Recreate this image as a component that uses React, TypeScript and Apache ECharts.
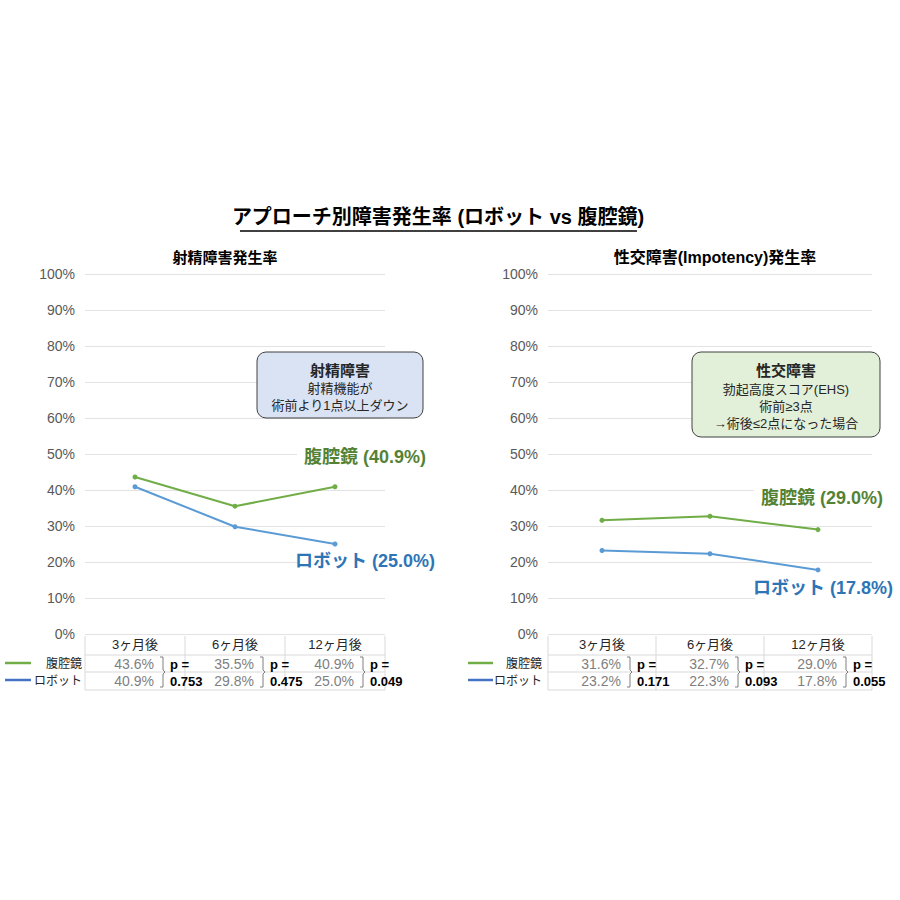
import React, { useEffect, useRef } from "react";
import * as echarts from "echarts";

const categories = ["3ヶ月後", "6ヶ月後", "12ヶ月後"];
const seriesNames = ["腹腔鏡", "ロボット"];
const ejacLap = [43.6, 35.5, 40.9];
const ejacRobot = [40.9, 29.8, 25.0];
const ejacP = ["0.753", "0.475", "0.049"];
const impLap = [31.6, 32.7, 29.0];
const impRobot = [23.2, 22.3, 17.8];
const impP = ["0.171", "0.093", "0.055"];
const yTicks = [0, 10, 20, 30, 40, 50, 60, 70, 80, 90, 100];

const mainTitle = "アプローチ別障害発生率 (ロボット vs 腹腔鏡)";
const leftTitle = "射精障害発生率";
const rightTitle = "性交障害(Impotency)発生率";
const leftBox = ["射精障害", "射精機能が", "術前より1点以上ダウン"];
const rightBox = ["性交障害", "勃起高度スコア(EHS)", "術前≥3点", "→術後≤2点になった場合"];

const GREEN = "#70ad47";
const BLUE = "#5b9bd5";
const GREEN_TXT = "#548235";
const BLUE_TXT = "#2e75b6";
const FONT = "'Liberation Sans', 'Noto Sans CJK JP', sans-serif";

const G = [
  { left: 85, width: 300, top: 274, height: 360 },
  { left: 548, width: 324, top: 274, height: 360 },
];

export default function App() {
  const ref = useRef<HTMLDivElement>(null);
  useEffect(() => {
    if (!ref.current) return;
    const chart = echarts.init(ref.current, null, { renderer: "svg" });
    const cx = (g: number, i: number) => G[g].left + ((i + 0.5) * G[g].width) / 3;

    const graphics: any[] = [];
    graphics.push({
      type: "text",
      x: 438,
      y: 217,
      style: { text: mainTitle, fill: "#000", font: `bold 20px ${FONT}`, textAlign: "center", textVerticalAlign: "middle" },
    });
    graphics.push({ type: "line", shape: { x1: 240, y1: 231, x2: 637, y2: 231 }, style: { stroke: "#000", lineWidth: 1.5 } });
    graphics.push({
      type: "text", x: 225, y: 257,
      style: { text: leftTitle, fill: "#000", font: `bold 15px ${FONT}`, textAlign: "center", textVerticalAlign: "middle" },
    });
    graphics.push({
      type: "text", x: 715, y: 257,
      style: { text: rightTitle, fill: "#000", font: `bold 16px ${FONT}`, textAlign: "center", textVerticalAlign: "middle" },
    });

    const box = (x: number, y: number, w: number, h: number, fill: string, lines: string[], ys: number[]) => {
      graphics.push({
        type: "rect",
        z: 50,
        shape: { x, y, width: w, height: h, r: 9 },
        style: { fill, stroke: "#404040", lineWidth: 1 },
      });
      lines.forEach((t, i) => {
        graphics.push({
          type: "text", x: x + w / 2, y: ys[i], z: 51,
          style: {
            text: t, fill: "#262626",
            font: i === 0 ? `bold 15px ${FONT}` : `13px ${FONT}`,
            textAlign: "center", textVerticalAlign: "middle",
          },
        });
      });
    };
    box(257, 352, 166, 66, "#dae3f3", leftBox, [370, 388, 405]);
    box(692, 352, 188, 85, "#e2f0d9", rightBox, [370, 389, 406, 423]);

    const endLabel = (x: number, y: number, name: string, v: number, color: string) => {
      graphics.push({
        type: "rect",
        z: 50,
        shape: { x: x - 68, y: y - 11, width: 136, height: 22 },
        style: { fill: "#ffffff" },
      });
      graphics.push({
        type: "text", x, y, z: 51,
        style: {
          text: `${name} (${v.toFixed(1)}%)`, fill: color, font: `bold 18px ${FONT}`,
          textAlign: "center", textVerticalAlign: "middle",
        },
      });
    };
    endLabel(365, 457, seriesNames[0], ejacLap[2], GREEN_TXT);
    endLabel(365, 561, seriesNames[1], ejacRobot[2], BLUE_TXT);
    endLabel(822, 498, seriesNames[0], impLap[2], GREEN_TXT);
    endLabel(823, 588, seriesNames[1], impRobot[2], BLUE_TXT);

    const table = (g: number, lap: number[], rob: number[], ps: string[], legX: number, legLen: number, legRight: number) => {
      const L = G[g].left, R = G[g].left + G[g].width;
      const lineStyle = { stroke: "#d9d9d9", lineWidth: 1 };
      [655, 672, 690].forEach((y) => graphics.push({ type: "line", shape: { x1: L, y1: y, x2: R, y2: y }, style: lineStyle }));
      for (let i = 0; i <= 3; i++) {
        const x = L + (i * G[g].width) / 3;
        graphics.push({ type: "line", shape: { x1: x, y1: 636, x2: x, y2: 690 }, style: lineStyle });
      }
      graphics.push({ type: "line", shape: { x1: legX, y1: 663, x2: legX + legLen, y2: 663 }, style: { stroke: GREEN, lineWidth: 2.5 } });
      graphics.push({ type: "line", shape: { x1: legX, y1: 680, x2: legX + legLen, y2: 680 }, style: { stroke: "#4472c4", lineWidth: 2.5 } });
      [seriesNames[0], seriesNames[1]].forEach((t, i) =>
        graphics.push({
          type: "text", x: legRight, y: i === 0 ? 664 : 681,
          style: { text: t, fill: "#262626", font: `12px ${FONT}`, textAlign: "right", textVerticalAlign: "middle" },
        })
      );
      for (let i = 0; i < 3; i++) {
        const c = cx(g, i);
        graphics.push({
          type: "text", x: c + 19, y: 664,
          style: { text: `${lap[i].toFixed(1)}%`, fill: "#7f7f7f", font: `14px ${FONT}`, textAlign: "right", textVerticalAlign: "middle" },
        });
        graphics.push({
          type: "text", x: c + 19, y: 681,
          style: { text: `${rob[i].toFixed(1)}%`, fill: "#7f7f7f", font: `14px ${FONT}`, textAlign: "right", textVerticalAlign: "middle" },
        });
        const bx = c + 28;
        graphics.push({
          type: "polyline",
          shape: { points: [[bx - 3, 657], [bx, 657], [bx, 670], [bx + 2, 672], [bx, 674], [bx, 687], [bx - 3, 687]] },
          style: { stroke: "#7f7f7f", lineWidth: 1, fill: null },
        });
        graphics.push({
          type: "text", x: c + 35, y: 664,
          style: { text: "p =", fill: "#000", font: `bold 13px ${FONT}`, textAlign: "left", textVerticalAlign: "middle" },
        });
        graphics.push({
          type: "text", x: c + 35, y: 681,
          style: { text: ps[i], fill: "#000", font: `bold 13px ${FONT}`, textAlign: "left", textVerticalAlign: "middle" },
        });
      }
    };
    table(0, ejacLap, ejacRobot, ejacP, 5, 26, 82);
    table(1, impLap, impRobot, impP, 468, 25, 542);

    const yAxis = (gi: number) => ({
      type: "value",
      gridIndex: gi,
      min: 0,
      max: 100,
      interval: 10,
      axisLine: { show: false },
      axisTick: { show: false },
      axisLabel: { formatter: (v: number) => (yTicks.includes(v) ? `${v}%` : ""), color: "#595959", fontSize: 14, fontFamily: FONT, margin: 10 },
      splitLine: { lineStyle: { color: "#e3e3e3", width: 1 } },
    });
    const xAxis = (gi: number) => ({
      type: "category",
      gridIndex: gi,
      data: categories,
      boundaryGap: true,
      axisLine: { show: false },
      axisTick: { show: false },
      axisLabel: { color: "#262626", fontSize: 13, fontFamily: FONT, margin: 4 },
    });
    const line = (name: string, gi: number, data: number[], color: string) => ({
      name,
      type: "line",
      xAxisIndex: gi,
      yAxisIndex: gi,
      data,
      symbol: "circle",
      symbolSize: 5,
      lineStyle: { color, width: 2 },
      itemStyle: { color },
    });

    chart.setOption({
      animation: false,
      backgroundColor: "#ffffff",
      grid: G.map((g) => ({ left: g.left, width: g.width, top: g.top, height: g.height })),
      xAxis: [xAxis(0), xAxis(1)],
      yAxis: [yAxis(0), yAxis(1)],
      series: [
        line(seriesNames[0], 0, ejacLap, GREEN),
        line(seriesNames[1], 0, ejacRobot, BLUE),
        line(seriesNames[0], 1, impLap, GREEN),
        line(seriesNames[1], 1, impRobot, BLUE),
      ],
      graphic: graphics,
    });
    return () => chart.dispose();
  }, []);
  return <div ref={ref} style={{ position: "fixed", left: 0, top: 0, width: 900, height: 900, background: "#fff" }} />;
}
